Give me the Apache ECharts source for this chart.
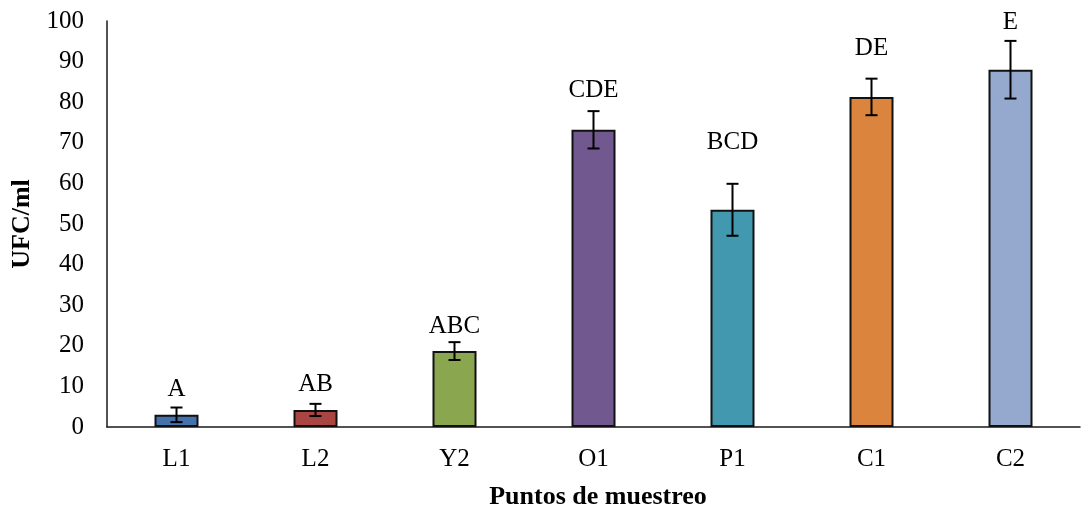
<!DOCTYPE html>
<html>
<head>
<meta charset="utf-8">
<script src="https://cdn.jsdelivr.net/npm/echarts@6/dist/echarts.min.js"></script>
<style>
  html, body { margin: 0; padding: 0; background: #fff; }
  #chart { width: 1081px; height: 508px; }
</style>
</head>
<body>
<div id="chart"></div>
<script>
// Sampling points and colony counts (UFC/ml)
const categories = ['L1', 'L2', 'Y2', 'O1', 'P1', 'C1', 'C2'];
const means = [3.0, 4.2, 18.7, 73.2, 53.5, 81.3, 88.0];
const errors = [1.8, 1.5, 2.2, 4.6, 6.4, 4.5, 7.1];
const groups = ['A', 'AB', 'ABC', 'CDE', 'BCD', 'DE', 'E'];
const yTicks = { min: 0, max: 100, interval: 10 };

// Drawing styles
const barColors = ['#4372ac', '#a94542', '#8aa74f', '#71588f', '#4198af', '#db843d', '#95a9cf'];
const letterGap = [18, 19, 16, 21, 41, 30, 18]; // px from cap of error bar to letter centre
const FONT = '"Liberation Serif", "Times New Roman", serif';

const chart = echarts.init(document.getElementById('chart'), null, { renderer: 'canvas' });

const option = {
  animation: false,
  backgroundColor: '#ffffff',
  grid: { left: 107, right: 1, top: 21, bottom: 81, containLabel: false, outerBoundsMode: 'none' },
  xAxis: {
    type: 'category',
    data: categories,
    name: 'Puntos de muestreo',
    nameLocation: 'middle',
    nameGap: 57,
    nameTextStyle: { fontFamily: FONT, fontSize: 26, fontWeight: 'bold', color: '#000', padding: [0, 0, 0, 9] },
    axisLine: { lineStyle: { color: '#1a1a1a', width: 1.5 } },
    axisTick: { show: false },
    axisLabel: { fontFamily: FONT, fontSize: 25, color: '#000', margin: 20 }
  },
  yAxis: {
    type: 'value',
    min: yTicks.min,
    max: yTicks.max,
    interval: yTicks.interval,
    name: 'UFC/ml',
    nameLocation: 'middle',
    nameGap: 71,
    nameRotate: 90,
    nameTextStyle: { fontFamily: FONT, fontSize: 26, fontWeight: 'bold', color: '#000' },
    axisLine: { show: true, lineStyle: { color: '#1a1a1a', width: 1.5 } },
    axisTick: { show: false },
    splitLine: { show: false },
    axisLabel: { fontFamily: FONT, fontSize: 25, color: '#000', margin: 23 }
  },
  series: [
    {
      type: 'bar',
      barWidth: 44,
      data: means.map((v, i) => ({
        value: v,
        itemStyle: { color: barColors[i], borderColor: '#111', borderWidth: 2 }
      })),
      z: 2
    },
    {
      type: 'custom',
      z: 5,
      data: means.map((v, i) => [i, v, errors[i]]),
      renderItem: function (params, api) {
        const idx = params.dataIndex;
        const x = api.value(0);
        const m = api.value(1);
        const e = api.value(2);
        const top = api.coord([x, m + e]);
        const bot = api.coord([x, m - e]);
        const cap = 6;
        const style = { stroke: '#000', lineWidth: 2 };
        return {
          type: 'group',
          children: [
            { type: 'line', shape: { x1: top[0], y1: top[1], x2: bot[0], y2: bot[1] }, style: style },
            { type: 'line', shape: { x1: top[0] - cap, y1: top[1], x2: top[0] + cap, y2: top[1] }, style: style },
            { type: 'line', shape: { x1: bot[0] - cap, y1: bot[1], x2: bot[0] + cap, y2: bot[1] }, style: style },
            {
              type: 'text',
              style: {
                text: groups[idx],
                x: top[0],
                y: top[1] - letterGap[idx],
                align: 'center',
                verticalAlign: 'middle',
                fontFamily: FONT,
                fontSize: 25,
                fill: '#000'
              }
            }
          ]
        };
      }
    }
  ]
};

chart.setOption(option);
</script>
</body>
</html>
